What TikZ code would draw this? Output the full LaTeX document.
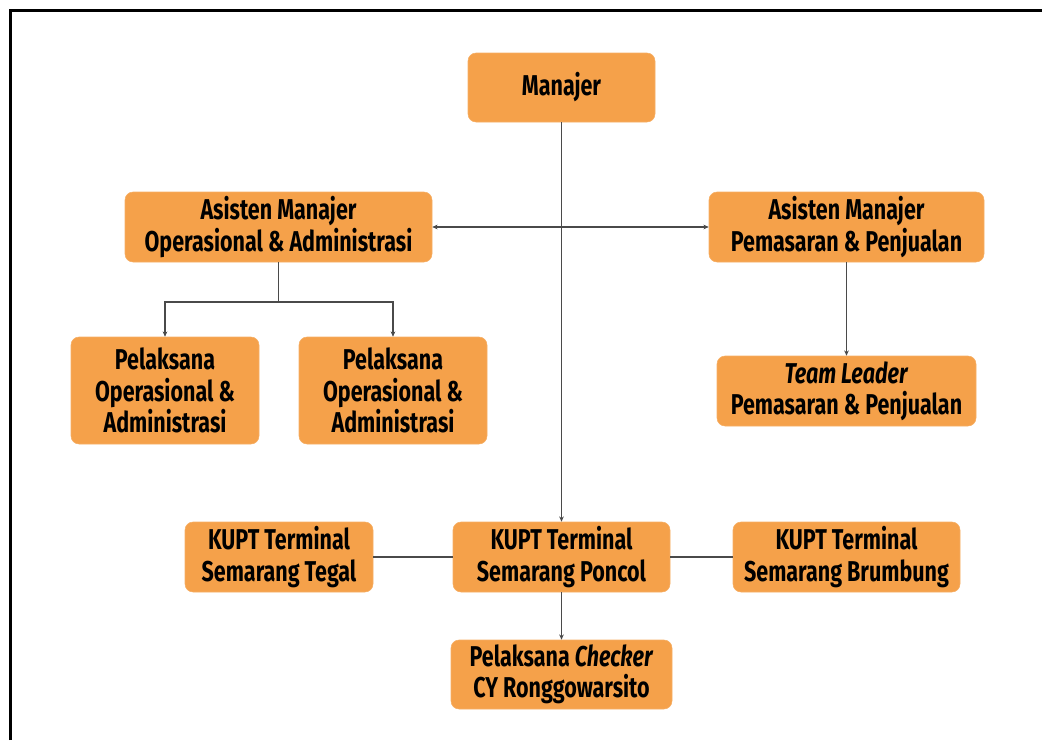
\documentclass[tikz,border=0pt]{standalone}
\usepackage{fontspec}
\setmainfont{Fira Sans}[FakeStretch=0.75]
\usetikzlibrary{arrows.meta}
\definecolor{boxorange}{HTML}{F5A14A}
\definecolor{linegray}{HTML}{4A4A4A}
\tikzset{
  orgbox/.style={fill=boxorange, draw=boxorange!85!white, rounded corners=6pt, align=center,
    inner sep=0pt, font=\fontsize{21.5}{23.5}\selectfont\bfseries, text=black},
  conn/.style={draw=linegray, line width=1.1pt},
  arr/.style={conn, -{Stealth[length=4pt,width=3.5pt]}},
  darr/.style={conn, {Stealth[length=4pt,width=3.5pt]}-{Stealth[length=4pt,width=3.5pt]}}
}
\begin{document}
\begin{tikzpicture}[x=0.75pt,y=-0.75pt]
\useasboundingbox (0,0) rectangle (1042,740);
\draw[line width=2.6pt, black] (10.5,740) -- (10.5,10.5) -- (1042,10.5);

\node[orgbox, minimum width=187*0.75pt, minimum height=69*0.75pt] (man) at (561.5,87.5) {Manajer};
\node[orgbox, minimum width=307*0.75pt, minimum height=70*0.75pt] (amo) at (278.5,227) {Asisten Manajer\\Operasional \& Administrasi};
\node[orgbox, minimum width=275*0.75pt, minimum height=70*0.75pt] (amp) at (846.5,227) {Asisten Manajer\\Pemasaran \& Penjualan};
\node[orgbox, minimum width=188*0.75pt, minimum height=107*0.75pt] (po1) at (165,390.5) {Pelaksana\\Operasional \&\\Administrasi};
\node[orgbox, minimum width=188*0.75pt, minimum height=107*0.75pt] (po2) at (393,390.5) {Pelaksana\\Operasional \&\\Administrasi};
\node[orgbox, minimum width=259*0.75pt, minimum height=70*0.75pt] (tl) at (846.5,391) {\textit{Team Leader}\\Pemasaran \& Penjualan};
\node[orgbox, minimum width=188*0.75pt, minimum height=70*0.75pt] (kt) at (279,557) {KUPT Terminal\\Semarang Tegal};
\node[orgbox, minimum width=217*0.75pt, minimum height=70*0.75pt] (kp) at (561.5,557) {KUPT Terminal\\Semarang Poncol};
\node[orgbox, minimum width=227*0.75pt, minimum height=70*0.75pt] (kb) at (846.5,557) {KUPT Terminal\\Semarang Brumbung};
\node[orgbox, minimum width=221*0.75pt, minimum height=69*0.75pt] (pc) at (561.5,674.5) {Pelaksana \textit{Checker}\\CY Ronggowarsito};

\coordinate (jn) at (278.5,302);
\draw[arr] (man.south) -- (kp.north);
\draw[darr] (amo.east) -- (amp.west);
\draw[conn] (amo.south) -- (jn);
\draw[arr] (jn) -| (po1.north);
\draw[arr] (jn) -| (po2.north);
\draw[arr] (amp.south) -- (tl.north);
\draw[conn] (kp.west) -- (kt.east);
\draw[conn] (kp.east) -- (kb.west);
\draw[arr] (kp.south) -- (pc.north);
\end{tikzpicture}
\end{document}
